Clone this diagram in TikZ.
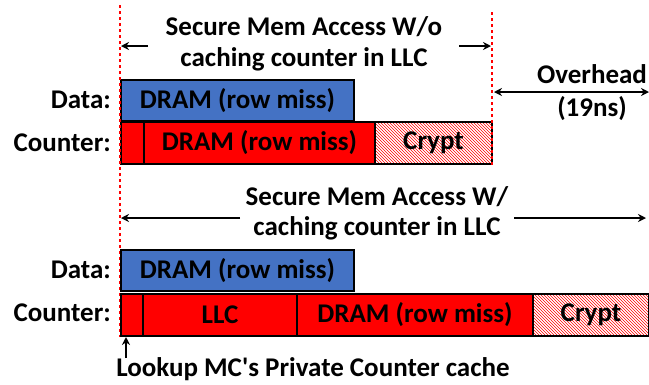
\documentclass[tikz,border=0pt]{standalone}
\usepackage{fontspec}
\newfontfamily\calf{Carlito}
\usetikzlibrary{patterns,arrows.meta}
\definecolor{dblue}{HTML}{4472C4}
\begin{document}
\begin{tikzpicture}[x=1pt,y=-1pt,
  txt/.style={font=\calf\fontsize{27}{31}\selectfont\bfseries, inner sep=0pt},
  lbl/.style={txt, anchor=east},
  blk/.style={draw=black, line width=2pt, inner sep=0pt, anchor=north west, font=\calf\fontsize{27}{31}\selectfont\bfseries},
  blue/.style={blk, fill=dblue},
  redb/.style={blk, fill=red},
  crypt/.style={blk, pattern=north west lines, pattern color=red},
  vline/.style={red, line width=2.5pt, dash pattern=on 3pt off 3pt},
  arr/.style={-{Stealth[length=8pt,width=8pt]}, line width=1.6pt},
  darr/.style={{Stealth[length=8pt,width=8pt]}-{Stealth[length=8pt,width=8pt]}, line width=1.6pt}
]
\useasboundingbox (0,0) rectangle (649,384);
% top section
\node[blue, minimum width=233pt, minimum height=41pt] (d1) at (120,79) {DRAM (row miss)};
\node[redb, minimum width=23pt, minimum height=42pt] (c1a) at (120,121) {};
\node[redb, minimum width=231pt, minimum height=42pt] (c1b) at (143,121) {DRAM (row miss)};
\node[crypt, minimum width=117pt, minimum height=42pt] (c1c) at (374,121) {Crypt};
\node[lbl] (ld1) at (111,100) {Data:};
\node[lbl] (lc1) at (111,143) {Counter:};
\node[txt, align=center] (t1) at (304,44) {Secure Mem Access W/o\\caching counter in LLC};
\coordinate (v1t) at (120,5);
\coordinate (v1b) at (120,337);
\coordinate (v2t) at (492,12);
\coordinate (v2b) at (492,166);
\draw[vline] (v1t) -- (v1b);
\draw[vline] (v2t) -- (v2b);
\coordinate (a1l) at (121,46);
\coordinate (a1r) at (491,46);
\coordinate (a1ls) at (148,46);
\coordinate (a1rs) at (459,46);
\draw[arr] (a1ls) -- (a1l);
\draw[arr] (a1rs) -- (a1r);
\node[txt, align=center, font=\calf\fontsize{27}{33}\selectfont\bfseries] (ov) at (592,93) {Overhead\\(19ns)};
\coordinate (o1) at (494,92);
\coordinate (o2) at (649,92);
\draw[darr] (o1) -- (o2);
% bottom section
\node[blue, minimum width=233pt, minimum height=41pt] (d2) at (120,249) {DRAM (row miss)};
\node[redb, minimum width=22pt, minimum height=42pt] (c2a) at (120,293) {};
\node[redb, minimum width=154pt, minimum height=42pt] (c2b) at (142,293) {LLC};
\node[redb, minimum width=236pt, minimum height=42pt] (c2c) at (296,293) {DRAM (row miss)};
\node[crypt, minimum width=116pt, minimum height=42pt] (c2d) at (532,293) {Crypt};
\node[lbl] (ld2) at (111,270) {Data:};
\node[lbl] (lc2) at (111,313) {Counter:};
\node[txt, align=center, font=\calf\fontsize{27}{30}\selectfont\bfseries] (t2) at (377,213) {Secure Mem Access W/\\caching counter in LLC};
\coordinate (a2l) at (121,218);
\coordinate (a2r) at (646,218);
\coordinate (a2ls) at (240,218);
\coordinate (a2rs) at (514,218);
\draw[arr] (a2ls) -- (a2l);
\draw[arr] (a2rs) -- (a2r);
\coordinate (up1) at (126,358);
\coordinate (up2) at (126,337);
\draw[arr] (up1) -- (up2);
\node[txt] (look) at (313,369) {Lookup MC's Private Counter cache};
\end{tikzpicture}
\end{document}
